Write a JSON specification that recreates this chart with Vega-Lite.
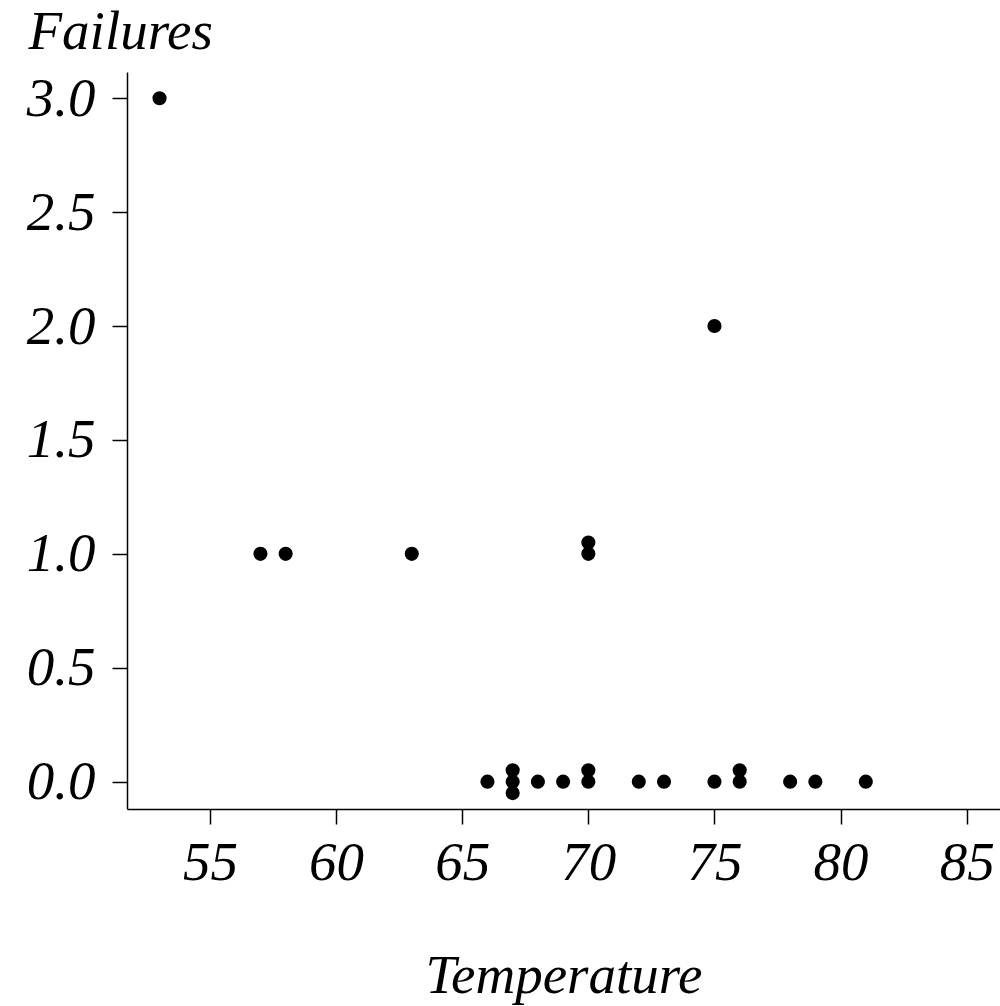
{
  "$schema": "https://vega.github.io/schema/vega-lite/v6.json",
  "width": 873,
  "height": 737,
  "autosize": {"type": "none"},
  "padding": {"left": 127, "top": 72, "right": 0, "bottom": 197},
  "background": "white",
  "config": {
    "view": {"stroke": null},
    "axis": {
      "grid": false,
      "domainColor": "black",
      "domainWidth": 1.5,
      "tickColor": "black",
      "tickWidth": 1.5,
      "tickSize": 15,
      "labelFont": "Liberation Serif",
      "labelFontStyle": "italic",
      "labelFontSize": 55,
      "labelColor": "black",
      "titleFont": "Liberation Serif",
      "titleFontStyle": "italic",
      "titleFontWeight": "normal",
      "titleFontSize": 55,
      "titleColor": "black",
      "labelFlush": false,
      "labelOverlap": false
    }
  },
  "data": {
    "values": [
      {"temperature": 53, "failures": 3},
      {"temperature": 57, "failures": 1},
      {"temperature": 58, "failures": 1},
      {"temperature": 63, "failures": 1},
      {"temperature": 66, "failures": 0},
      {"temperature": 67, "failures": 0.05},
      {"temperature": 67, "failures": 0},
      {"temperature": 67, "failures": -0.05},
      {"temperature": 68, "failures": 0},
      {"temperature": 69, "failures": 0},
      {"temperature": 70, "failures": 1.05},
      {"temperature": 70, "failures": 1},
      {"temperature": 70, "failures": 0.05},
      {"temperature": 70, "failures": 0},
      {"temperature": 72, "failures": 0},
      {"temperature": 73, "failures": 0},
      {"temperature": 75, "failures": 0},
      {"temperature": 75, "failures": 2},
      {"temperature": 76, "failures": 0.05},
      {"temperature": 76, "failures": 0},
      {"temperature": 78, "failures": 0},
      {"temperature": 79, "failures": 0},
      {"temperature": 81, "failures": 0}
    ]
  },
  "mark": {"type": "circle", "color": "black", "opacity": 1, "size": 200},
  "encoding": {
    "x": {
      "field": "temperature",
      "type": "quantitative",
      "scale": {"domain": [51.71, 86.32], "nice": false, "zero": false},
      "axis": {
        "title": "Temperature",
        "values": [55, 60, 65, 70, 75, 80, 85],
        "format": "d",
        "labelBaseline": "alphabetic",
        "labelPadding": 55,
        "titleY": 183,
        "titleBaseline": "alphabetic",
        "titleAlign": "center"
      }
    },
    "y": {
      "field": "failures",
      "type": "quantitative",
      "scale": {"domain": [-0.12, 3.115], "nice": false, "zero": false},
      "axis": {
        "title": "Failures",
        "values": [0, 0.5, 1, 1.5, 2, 2.5, 3],
        "format": ".1f",
        "labelPadding": 17,
        "titleAngle": 0,
        "titleX": -99,
        "titleY": -24,
        "titleAlign": "left",
        "titleBaseline": "alphabetic"
      }
    }
  }
}
